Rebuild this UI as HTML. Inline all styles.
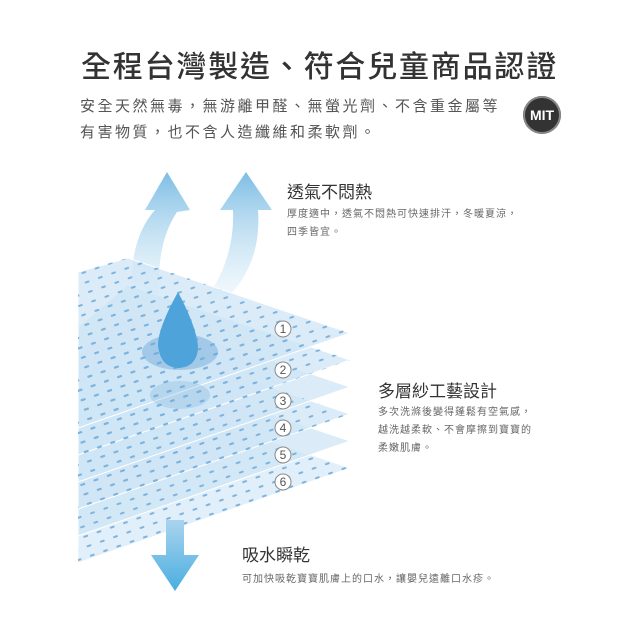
<!DOCTYPE html>
<html><head><meta charset="utf-8"><style>
body{margin:0;width:640px;height:640px;background:#fff;overflow:hidden;font-family:"Liberation Sans","Noto Sans CJK TC",sans-serif;position:relative}
.t{position:absolute;white-space:nowrap}
</style></head><body>
<div class="t" style="left:81px;top:42px;font-size:30px;color:#333;font-weight:500;letter-spacing:1.8px">全程台灣製造、符合兒童商品認證</div>
<div class="t" style="left:80px;top:94px;font-size:15px;color:#555;letter-spacing:2.5px;line-height:26px">安全天然無毒，無游離甲醛、無螢光劑、不含重金屬等<br>有害物質，也不含人造纖維和柔軟劑。</div>
<div style="position:absolute;left:523px;top:96px;width:38px;height:38px;border-radius:50%;background:#333;box-shadow:inset 0 0 0 2px #888;color:#fff;font-weight:bold;font-size:14px;text-align:center;line-height:38px">MIT</div>
<svg width="640" height="640" style="position:absolute;left:0;top:0">
<defs>
<pattern id="d" width="14" height="10" patternUnits="userSpaceOnUse" patternTransform="rotate(-19)">
<rect x="2" y="4" width="5" height="2" rx="1" fill="#7fb3dd"/></pattern>
<linearGradient id="ag" x1="0" y1="1" x2="0" y2="0"><stop offset="0" stop-color="#d6ebf7" stop-opacity=".3"/><stop offset="1" stop-color="#7dbde4"/></linearGradient>
<linearGradient id="dg" x1="0" y1="0" x2="0" y2="1"><stop offset="0" stop-color="#a9d4ee"/><stop offset="1" stop-color="#4aaee0"/></linearGradient>
</defs>
<path d="M132 300 Q128 240 155 210 L145 210 L167 172 L190 210 L177 212 Q155 245 160 300Z" fill="url(#ag)"/>
<path d="M205 300 Q235 260 233 210 L220 210 L246 172 L272 210 L258 210 Q262 265 225 300Z" fill="url(#ag)"/>
<g fill="#cfe6f6" fill-opacity=".75" stroke="#fff" stroke-width="1">
<polygon points="78,435 128,393 350,468 78,563" fill="#d6eaf7"/>
<polygon points="78,408 128,366 350,441 78,536"/>
<polygon points="78,381 128,339 350,414 78,509"/>
<polygon points="78,354 128,312 350,387 78,482"/>
<polygon points="78,327 128,285 350,360 78,455"/>
<polygon points="78,272 128,258 350,333 78,428"/>
</g>
<g fill="url(#d)">
<polygon points="78,435 128,393 350,468 78,563"/>
<polygon points="78,272 128,258 350,333 78,428"/>
<polygon points="78,327 128,285 350,360 78,455"/>
<polygon points="78,381 128,339 350,414 78,509"/>
</g>
<ellipse cx="180" cy="352" rx="38" ry="18" fill="#6aa9d8" opacity=".45"/>
<ellipse cx="180" cy="395" rx="30" ry="14" fill="#6aa9d8" opacity=".25"/>
<path d="M178 292 Q158 328 158 345 Q160 368 180 368 Q198 366 198 346 Q196 326 178 292Z" fill="#4ea3da"/>
<path d="M166 520 L184 520 L184 555 L199 555 L175 591 L151 555 L166 555Z" fill="url(#dg)"/>
<g font-family="Liberation Sans" font-size="12" fill="#555" text-anchor="middle">
<g fill="#fff" stroke="#888"><circle cx="283" cy="329" r="8"/><circle cx="283" cy="370" r="8"/><circle cx="283" cy="401" r="8"/><circle cx="283" cy="428" r="8"/><circle cx="283" cy="455" r="8"/><circle cx="283" cy="482" r="8"/></g>
<text x="283" y="333">1</text><text x="283" y="374">2</text><text x="283" y="405">3</text><text x="283" y="432">4</text><text x="283" y="459">5</text><text x="283" y="486">6</text>
</g>
</svg>
<div class="t" style="left:287px;top:178px;font-size:17px;color:#333">透氣不悶熱</div>
<div class="t" style="left:287px;top:206px;font-size:10px;color:#666;line-height:18px;letter-spacing:1px">厚度適中，透氣不悶熱可快速排汗，冬暖夏涼，<br>四季皆宜。</div>
<div class="t" style="left:378px;top:377px;font-size:17px;color:#333">多層紗工藝設計</div>
<div class="t" style="left:378px;top:404px;font-size:10px;color:#666;line-height:18px;letter-spacing:1px">多次洗滌後變得蓬鬆有空氣感，<br>越洗越柔軟、不會摩擦到寶寶的<br>柔嫩肌膚。</div>
<div class="t" style="left:242px;top:541px;font-size:17px;color:#333">吸水瞬乾</div>
<div class="t" style="left:242px;top:570px;font-size:10px;color:#666;letter-spacing:1px">可加快吸乾寶寶肌膚上的口水，讓嬰兒遠離口水疹。</div>
</body></html>
